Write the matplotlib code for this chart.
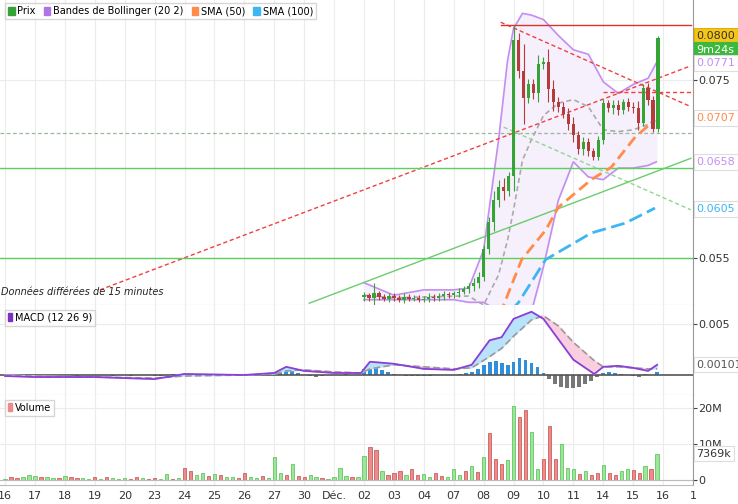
import numpy as np
import matplotlib
matplotlib.use("Agg")
import matplotlib.pyplot as plt
from matplotlib.patches import Patch
from matplotlib.transforms import blended_transform_factory as btf

day_labels = ["16","17","18","19","20","23","24","25","26","27","30","Déc.","02","03","04","07","08","09","10","11","14","15","16","1"]

# candles: 6 per day from day index 12
cand_start = 12
closes = [0.0508,0.0505,0.0510,0.0506,0.0504,0.0507,
          0.0505,0.0503,0.0506,0.0504,0.0505,0.0503,
          0.0504,0.0506,0.0505,0.0507,0.0509,0.0508,
          0.0510,0.0512,0.0515,0.0518,0.0522,0.0528,
          0.0560,0.0590,0.0615,0.0630,0.0625,0.0642,
          0.0795,0.0760,0.0730,0.0745,0.0735,0.0768,
          0.0770,0.0740,0.0725,0.0720,0.0712,0.0700,
          0.0688,0.0672,0.0680,0.0670,0.0664,0.0683,
          0.0724,0.0718,0.0722,0.0716,0.0725,0.0720,
          0.0718,0.0702,0.0741,0.0728,0.0695,0.0797]
first_open = 0.0506
wicks = [0.0004,0.0003,0.0012,0.0003,0.0003,0.0004,
         0.0003,0.0003,0.0004,0.0003,0.0003,0.0003,
         0.0003,0.0004,0.0003,0.0003,0.0004,0.0003,
         0.0003,0.0004,0.0003,0.0004,0.0005,0.0006,
         0.0004,0.0006,0.0010,0.0008,0.0010,0.0005,
         0.0017,0.0008,0.0030,0.0006,0.0006,0.0010,
         0.0006,0.0015,0.0010,0.0006,0.0005,0.0006,
         0.0008,0.0005,0.0006,0.0005,0.0004,0.0004,
         0.0005,0.0004,0.0006,0.0005,0.0004,0.0005,
         0.0005,0.0008,0.0004,0.0006,0.0004,0.0003]

bb_x   = [12,13,14,15,15.5,16,16.5,16.8,17,17.3,17.6,18,18.5,19,19.5,20,20.5,21,21.5,21.77]
bb_up  = [0.0522,0.0508,0.0514,0.0514,0.0516,0.0559,0.0683,0.0772,0.0808,0.0825,0.0823,0.0818,0.0800,0.0784,0.0779,0.0748,0.0735,0.0745,0.0752,0.0769]
bb_lo  = [0.0503,0.0503,0.0503,0.0503,0.0500,0.0500,0.0490,0.0470,0.0455,0.0450,0.0490,0.0540,0.0615,0.0658,0.0641,0.0638,0.0651,0.0651,0.0654,0.0658]
bb_mid = [0.0508,0.0505,0.0506,0.0507,0.0507,0.0497,0.0531,0.0570,0.0604,0.0660,0.0683,0.0710,0.0724,0.0728,0.0720,0.0694,0.0692,0.0694,0.0700,0.0707]

sma50_x = [16.3,16.67,17.27,18.07,18.5,19.6,20.27,21.07,21.73]
sma50   = [0.0470,0.0497,0.0548,0.0581,0.0607,0.0638,0.0652,0.0686,0.0705]
sma100_x = [16.9,17.17,18.07,19.6,20.73,21.73]
sma100   = [0.0490,0.0500,0.0548,0.0578,0.0589,0.0606]

macd_x = [0,1,3,5,6,8,9,9.4,10,11,11.9,12.2,13,14,15,15.6,16.2,16.6,17,17.6,18,18.5,19,19.7,20,20.5,21,21.5,21.8]
macd   = [-0.0001,-0.0002,-0.0002,-0.0004,0.0001,0,0.0002,0.0008,0.0004,0.0002,0.0002,0.0013,0.0011,0.0006,0.0005,0.0010,0.0034,0.0037,0.0055,0.0062,0.0055,0.0035,0.0015,0.0001,0.0008,0.0009,0.0007,0.0004,0.0010]
signal = [0,-0.0001,-0.0002,-0.0003,-0.0001,0,0.0001,0.0004,0.0005,0.0003,0.0002,0.0006,0.0010,0.0008,0.0006,0.0007,0.0018,0.0026,0.0038,0.0054,0.0058,0.0048,0.0032,0.0014,0.0008,0.0008,0.0007,0.0006,0.0006]

hist = [[0,-0.0001,-0.0001,0,0],[0,-0.0001,0,0,-0.0001],[0,0,-0.0001,0,0],[0,0,0,-0.0001,0],
        [0,-0.0001,0,0,0],[-0.0001,-0.0001,0,0.0001,0],[0.0002,0.0001,0,-0.0001,0],[-0.0001,0,0,0,0],
        [0,0,-0.0001,0,0.0001],[0.0002,0.0004,0.0005,0.0004,0.0002],[0,-0.0001,-0.0002,-0.0001,0],
        [0,0,0.0001,0,0],[0.0006,0.0008,0.0007,0.0005,0.0003],[0.0001,0,-0.0001,-0.0001,-0.0001],
        [-0.0001,-0.0001,0,0,0],[0,0.0001,0.0002,0.0003,0.0006],[0.0010,0.0013,0.0014,0.0012,0.0010],
        [0.0013,0.0017,0.0015,0.0012,0.0008],[0.0002,-0.0004,-0.0009,-0.0012,-0.0013],
        [-0.0013,-0.0012,-0.0009,-0.0006,-0.0002],[0.0002,0.0003,0.0002,0.0001,0],
        [-0.0001,-0.0002,0.0001,0,0.0003]]

volume = [[0.3,0.8,0.5,1.0,1.5],[1.3,1.0,0.8,0.6,0.5],[1.2,0.9,0.7,0.5,0.3],[0.8,0.3,1.0,0.6,0.4],
          [0.7,0.4,1.0,0.5,0.3],[0.5,0.3,1.8,0.4,0.6],[3.5,2.5,1.5,2.0,1.2],[1.8,1.5,0.8,1.0,0.6],
          [1.9,1.0,0.6,1.2,0.5],[6.5,2.0,1.5,4.6,1.2],[1.0,1.5,0.8,0.5,0.3],[0.8,3.5,1.2,1.0,0.8],
          [6.8,9.3,8.3,2.5,1.5],[2.0,2.6,1.5,3.0,1.5],[1.8,1.0,2.0,1.3,0.8],[3.0,1.5,2.5,4.0,2.2],
          [6.5,13.0,6.0,4.5,5.5],[20.5,17.5,19.5,13.5,3.0],[6.0,15.0,6.0,10.0,3.5],[3.0,1.8,2.5,1.5,2.0],
          [4.2,2.0,1.5,2.5,3.0],[2.8,2.0,4.0,3.0,7.4]]
vol_dir = ["grrgg","grggr","grrgg","rgrgg","grrgr","rggrg","rrggr","grggr","rggrg","ggrgr",
           "rggrg","gggrg","grrgr","rrgrr","ggrrg","ggrgr","grrrg","grrgg","rrrgg","grgrr",
           "grrgg","rrgrg"]

GREEN, RED = "#36a336", "#b53c3c"
fig = plt.figure(figsize=(7.38, 5.04), dpi=100)
W = 693/738
axp = fig.add_axes([0, 1-305/504, W, 305/504])
axm = fig.add_axes([0, 1-395/504, W, 90/504], sharex=axp)
axv = fig.add_axes([0, 1-485/504, W, 90/504], sharex=axp)
xl = (-0.17, 22.93)
for a in (axp, axm, axv):
    a.set_xlim(*xl)
    a.yaxis.tick_right()
    a.tick_params(axis='y', labelsize=8, length=3, color='#444', labelcolor='#333', pad=1)
    a.set_xticks(range(len(day_labels)))
    a.grid(True, color='#ececec', lw=0.8)
    a.set_axisbelow(True)
    for s in ('top', 'left'):
        a.spines[s].set_visible(False)
    a.spines['right'].set_color('#999')
    a.spines['bottom'].set_color('#bbb')
plt.setp(axp.get_xticklabels(), visible=False)
plt.setp(axm.get_xticklabels(), visible=False)
axp.tick_params(axis='x', length=0)
axm.tick_params(axis='x', length=0)
axv.set_xticklabels(day_labels, fontsize=8, color='#333')
axv.tick_params(axis='x', length=0, pad=4)

# price panel
axp.set_ylim(0.0497, 0.0840)
axp.set_yticks([0.055, 0.075])
axp.set_yticklabels(["0.055", "0.075"])
axp.fill_between(bb_x, bb_lo, bb_up, color='#f5f0fb', zorder=1)
axp.plot(bb_x, bb_up, color='#c48ef0', lw=1.2, zorder=2)
axp.plot(bb_x, bb_lo, color='#c48ef0', lw=1.2, zorder=2)
axp.plot(bb_x, bb_mid, color='#aaaaaa', lw=1.2, ls=(0, (3, 2)), zorder=2)
axp.plot(sma50_x, sma50, color='#ff8c4a', lw=2, ls=(0, (4, 2)), zorder=3)
axp.plot(sma100_x, sma100, color='#3fb6f2', lw=2, ls=(0, (5, 2)), zorder=3)

# trend lines
axp.plot([3.17, 22.93], [0.0514, 0.0766], color='#f04040', lw=1, ls=(0, (3, 2)), zorder=2)
axp.plot([16.57, 22.93], [0.0815, 0.0720], color='#f04040', lw=1, ls=(0, (3, 2)), zorder=2)
axp.plot([16.57, 22.93], [0.0812, 0.0812], color='#e03030', lw=1, zorder=2)
axp.plot([20.0, 22.93], [0.0737, 0.0737], color='#f04040', lw=1, ls=(0, (3, 2)), zorder=2)
axp.axhline(0.0651, color='#5cd05c', lw=1, zorder=2)
axp.axhline(0.0550, color='#5cd05c', lw=1, zorder=2)
axp.axhline(0.0690, color='#9ab89a', lw=0.9, ls=(0, (3, 2)), zorder=2)
axp.plot([16.67, 22.93], [0.0697, 0.0604], color='#8ed88e', lw=1, ls=(0, (3, 2)), zorder=2)
axp.plot([10.17, 22.93], [0.0499, 0.0662], color='#6ccc6c', lw=1, zorder=2)

opens = [first_open] + closes[:-1]
for i, (o, c, w) in enumerate(zip(opens, closes, wicks)):
    x = cand_start + i / 6
    col = GREEN if c >= o else RED
    axp.vlines(x, min(o, c) - w, max(o, c) + w, color=col, lw=0.8, zorder=4)
    axp.bar(x, max(abs(c - o), 0.00005), bottom=min(o, c), width=0.11, color=col, zorder=5)

tr = btf(axp.transAxes, axp.transData)
def tag(ax, y, s, fc, tc, ec):
    t = btf(ax.transAxes, ax.transData)
    ax.text(1.005, y, s, transform=t, fontsize=8, color=tc, va='center', ha='left', clip_on=False,
            bbox=dict(boxstyle='square,pad=0.25', fc=fc, ec=ec, lw=0.8), zorder=10)
tag(axp, 0.0800, "0.0800", '#f5c518', '#333', '#e0b000')
tag(axp, 0.0784, "9m24s", '#3cb93c', '#fff', '#3cb93c')
tag(axp, 0.0769, "0.0771", 'white', '#c48ef0', '#ddd')
tag(axp, 0.0707, "0.0707", 'white', '#ff8c4a', '#ddd')
tag(axp, 0.0658, "0.0658", 'white', '#c48ef0', '#ddd')
tag(axp, 0.0605, "0.0605", 'white', '#3fb6f2', '#ddd')

h = [Patch(color=GREEN, label='Prix'), Patch(color='#b074e8', label='Bandes de Bollinger (20 2)'),
     Patch(color='#ff8c4a', label='SMA (50)'), Patch(color='#3fb6f2', label='SMA (100)')]
axp.legend(handles=h, loc='upper left', ncol=4, fontsize=7, frameon=True, borderpad=0.3,
           handlelength=0.7, handleheight=0.9, handletextpad=0.3, columnspacing=0.8,
           bbox_to_anchor=(0, 1.005), fancybox=False, edgecolor='#ccc')
axp.text(0.002, 0.033, "Données différées de 15 minutes", transform=axp.transAxes,
         fontsize=7, style='italic', color='#222')

# MACD
axm.set_ylim(-0.00196, 0.00686)
axm.set_yticks([0.005])
axm.set_yticklabels(["0.005"])
hx, hv, hc = [], [], []
for d, vals in enumerate(hist):
    for k, v in enumerate(vals):
        hx.append(d + k / 5); hv.append(v)
        hc.append('#2f8fd8' if v >= 0 else '#777777')
axm.bar(hx, hv, width=0.13, color=hc, zorder=2)
axm.axhline(0, color='#555', lw=1.2, zorder=3)
axm.fill_between(macd_x, macd, signal, where=np.array(macd) >= np.array(signal), interpolate=True,
                 color='#b9e3fa', zorder=3)
axm.fill_between(macd_x, macd, signal, where=np.array(macd) < np.array(signal), interpolate=True,
                 color='#f9cfe0', zorder=3)
axm.plot(macd_x, signal, color='#999', lw=1.2, ls=(0, (4, 2)), zorder=4)
axm.plot(macd_x, macd, color='#8a3fd8', lw=1.3, zorder=5)
tag(axm, 0.00101, "0.00101", 'white', '#555', '#ddd')
axm.legend(handles=[Patch(color='#7a2fc8', label='MACD (12 26 9)')], loc='upper left', fontsize=7,
           handlelength=0.4, handleheight=0.9, handletextpad=0.3, borderpad=0.3,
           fancybox=False, edgecolor='#ccc', bbox_to_anchor=(0, 1.0))

# Volume
axv.set_ylim(-1.3, 23.6)
axv.set_yticks([0, 10, 20])
axv.set_yticklabels(["0", "10M", "20M"])
vx, vv, fc, ec = [], [], [], []
for d, (vals, dirs) in enumerate(zip(volume, vol_dir)):
    for k, (v, s) in enumerate(zip(vals, dirs)):
        vx.append(d + k / 5); vv.append(v)
        fc.append('#9ee49a' if s == 'g' else '#e88c8c')
        ec.append('#4cbf4c' if s == 'g' else '#c84848')
axv.bar(vx, vv, width=0.11, color=fc, edgecolor=ec, lw=0.5, zorder=2)
axv.axhline(0, color='#bbb', lw=0.8)
tag(axv, 7.369, "7369k", 'white', '#333', '#ddd')
axv.legend(handles=[Patch(color='#f08a8a', label='Volume')], loc='upper left', fontsize=7,
           handlelength=0.4, handleheight=0.9, handletextpad=0.3, borderpad=0.3,
           fancybox=False, edgecolor='#ccc', bbox_to_anchor=(0, 1.0))

fig.savefig("out.png", dpi=100)
